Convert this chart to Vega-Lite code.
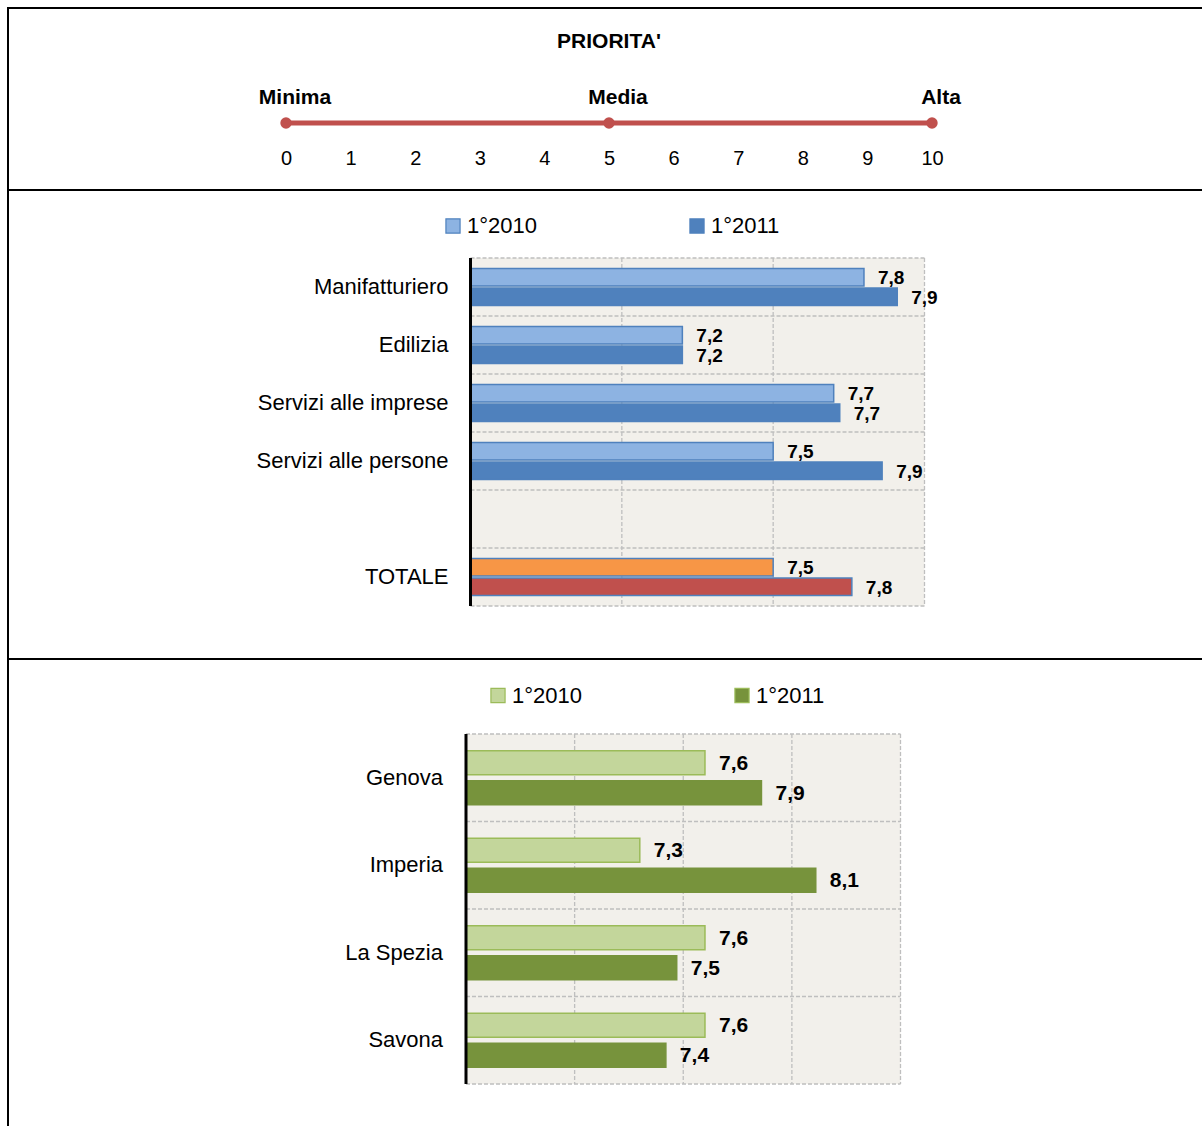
{
  "$schema": "https://vega.github.io/schema/vega-lite/v6.json",
  "padding": {"left": 7, "top": 7, "right": 0, "bottom": 0},
  "autosize": {"type": "pad"},
  "background": "white",
  "spacing": 0,
  "bounds": "flush",
  "resolve": {"scale": {"color": "independent", "x": "independent", "y": "independent", "yOffset": "independent"}, "legend": {"color": "independent"}},
  "config": {
    "font": "Liberation Sans",
    "view": {"stroke": null},
    "locale": {"number": {"decimal": ",", "thousands": ".", "grouping": [3], "currency": ["", " €"]}},
    "text": {"font": "Liberation Sans", "color": "#000000"},
    "legend": {"labelFont": "Liberation Sans", "labelColor": "#000000", "padding": 0, "offset": 0}
  },
  "datasets": {
    "scala": [
      {"livello": 0, "nome": "Minima"},
      {"livello": 5, "nome": "Media"},
      {"livello": 10, "nome": "Alta"}
    ],
    "settori": [
      {"settore": "Manifatturiero", "anno": "1°2010", "valore": 7.80},
      {"settore": "Manifatturiero", "anno": "1°2011", "valore": 7.91},
      {"settore": "Edilizia", "anno": "1°2010", "valore": 7.20},
      {"settore": "Edilizia", "anno": "1°2011", "valore": 7.20},
      {"settore": "Servizi alle imprese", "anno": "1°2010", "valore": 7.70},
      {"settore": "Servizi alle imprese", "anno": "1°2011", "valore": 7.72},
      {"settore": "Servizi alle persone", "anno": "1°2010", "valore": 7.50},
      {"settore": "Servizi alle persone", "anno": "1°2011", "valore": 7.86},
      {"settore": "TOTALE", "anno": "1°2010", "valore": 7.50},
      {"settore": "TOTALE", "anno": "1°2011", "valore": 7.76}
    ],
    "province": [
      {"provincia": "Genova", "anno": "1°2010", "valore": 7.60},
      {"provincia": "Genova", "anno": "1°2011", "valore": 7.86},
      {"provincia": "Imperia", "anno": "1°2010", "valore": 7.30},
      {"provincia": "Imperia", "anno": "1°2011", "valore": 8.11},
      {"provincia": "La Spezia", "anno": "1°2010", "valore": 7.60},
      {"provincia": "La Spezia", "anno": "1°2011", "valore": 7.47},
      {"provincia": "Savona", "anno": "1°2010", "valore": 7.60},
      {"provincia": "Savona", "anno": "1°2011", "valore": 7.42}
    ]
  },
  "vconcat": [
    {
      "width": 1195,
      "height": 182,
      "view": {"stroke": "#000000", "strokeWidth": 2, "strokeDash": [1195, 1377, 182]},
      "data": {"name": "scala"},
      "layer": [
        {
          "mark": {"type": "line", "color": "#c0504d", "strokeWidth": 5},
          "encoding": {
            "x": {"field": "livello", "type": "quantitative",
                  "scale": {"domain": [0, 10], "range": [278, 924], "nice": false, "zero": false},
                  "axis": {"orient": "bottom", "values": [0, 1, 2, 3, 4, 5, 6, 7, 8, 9, 10], "offset": -42, "format": "d",
                           "domain": false, "ticks": false, "tickSize": 0, "grid": false, "labelPadding": 0,
                           "labelFontSize": 20, "labelColor": "#000000", "title": null, "labelFlush": false,
                           "labelFont": "Liberation Sans"}},
            "y": {"datum": 115, "type": "quantitative", "scale": {"domain": [0, 182], "range": [0, 182], "nice": false, "zero": false}, "axis": null}
          }
        },
        {
          "mark": {"type": "point", "filled": true, "color": "#c0504d", "size": 130, "opacity": 1},
          "encoding": {
            "x": {"field": "livello", "type": "quantitative"},
            "y": {"datum": 115, "type": "quantitative", "axis": null}
          }
        },
        {
          "mark": {"type": "text", "fontWeight": "bold", "fontSize": 21, "dy": -25, "dx": 9, "baseline": "middle"},
          "encoding": {
            "x": {"field": "livello", "type": "quantitative"},
            "y": {"datum": 115, "type": "quantitative", "axis": null},
            "text": {"field": "nome", "type": "nominal"}
          }
        },
        {
          "data": {"values": [{"titolo": "PRIORITA'"}]},
          "mark": {"type": "text", "fontWeight": "bold", "fontSize": 21, "baseline": "middle", "letterSpacing": 1},
          "encoding": {
            "x": {"datum": 5, "type": "quantitative"},
            "y": {"datum": 34, "type": "quantitative", "axis": null},
            "text": {"field": "titolo", "type": "nominal"}
          }
        }
      ]
    },
    {
      "width": 1195,
      "height": 469,
      "view": {"stroke": "#000000", "strokeWidth": 2, "strokeDash": [1195, 1664, 469]},
      "resolve": {"scale": {"y": "independent"}},
      "layer": [
        {
          "data": {"values": [{}]},
          "mark": {"type": "rect", "color": "#f2f0eb"},
          "encoding": {
            "x": {"datum": 6.5, "type": "quantitative", "scale": {"domain": [6.5, 8.0], "range": [462.5, 916.5], "nice": false, "zero": false}, "axis": null},
            "x2": {"datum": 8.0},
            "y": {"datum": 0, "type": "quantitative", "scale": {"domain": [0, 6], "range": [68, 416], "nice": false}, "axis": null},
            "y2": {"datum": 6}
          }
        },
        {
          "data": {"values": [{"riga": 0}, {"riga": 1}, {"riga": 2}, {"riga": 3}, {"riga": 4}, {"riga": 5}, {"riga": 6}]},
          "mark": {"type": "rule", "color": "#bfbfbf", "strokeWidth": 1.3, "strokeDash": [4, 2]},
          "encoding": {
            "x": {"datum": 6.5, "type": "quantitative", "axis": null},
            "x2": {"datum": 8.0},
            "y": {"field": "riga", "type": "quantitative", "scale": {"domain": [0, 6], "range": [68, 416], "nice": false}, "axis": null}
          }
        },
        {
          "data": {"values": [{"soglia": 7.0}, {"soglia": 7.5}, {"soglia": 8.0}]},
          "mark": {"type": "rule", "color": "#bfbfbf", "strokeWidth": 1.3, "strokeDash": [4, 2]},
          "encoding": {
            "x": {"field": "soglia", "type": "quantitative", "axis": null},
            "y": {"datum": 0, "type": "quantitative", "scale": {"domain": [0, 6], "range": [68, 416], "nice": false}, "axis": null},
            "y2": {"datum": 6}
          }
        },
        {
          "data": {"name": "settori"},
          "mark": {"type": "bar", "stroke": "#4f81bd", "strokeWidth": 1.5},
          "encoding": {
            "x": {"field": "valore", "type": "quantitative", "axis": null},
            "x2": {"datum": 6.5},
            "y": {"field": "settore", "type": "nominal",
                  "scale": {"domain": ["Manifatturiero", "Edilizia", "Servizi alle imprese", "Servizi alle persone", " ", "TOTALE"], "range": [68, 416], "paddingInner": 0, "paddingOuter": 0},
                  "axis": null},
            "yOffset": {"field": "anno", "type": "nominal", "scale": {"domain": ["1°2010", "1°2011"], "paddingInner": 0.1, "paddingOuter": 0.54}},
            "color": {
              "condition": [
                {"test": "datum.settore === 'TOTALE' && datum.anno === '1°2010'", "value": "#f79646"},
                {"test": "datum.settore === 'TOTALE' && datum.anno === '1°2011'", "value": "#c0504d"}
              ],
              "field": "anno", "type": "nominal",
              "scale": {"domain": ["1°2010", "1°2011"], "range": ["#8db3e2", "#4f81bd"]},
              "legend": {"orient": "none", "legendX": 434, "legendY": 25, "direction": "horizontal", "title": null,
                         "symbolType": "square", "symbolSize": 200, "symbolStrokeColor": "#4f81bd", "symbolStrokeWidth": 1.2,
                         "labelFontSize": 22, "labelOffset": 3, "columnPadding": 149, "padding": 0}
            }
          }
        },
        {
          "data": {"name": "settori"},
          "mark": {"type": "text", "align": "left", "baseline": "middle", "dx": 14, "dy": 1, "fontSize": 19, "fontWeight": "bold"},
          "encoding": {
            "x": {"field": "valore", "type": "quantitative", "axis": null},
            "y": {"field": "settore", "type": "nominal",
                  "scale": {"domain": ["Manifatturiero", "Edilizia", "Servizi alle imprese", "Servizi alle persone", " ", "TOTALE"], "range": [68, 416], "paddingInner": 0, "paddingOuter": 0},
                  "axis": null},
            "yOffset": {"field": "anno", "type": "nominal", "scale": {"domain": ["1°2010", "1°2011"], "paddingInner": 0.1, "paddingOuter": 0.54}},
            "text": {"field": "valore", "type": "quantitative", "format": ".1f"}
          }
        },
        {
          "data": {"name": "settori"},
          "transform": [{"filter": "datum.anno === '1°2010'"}],
          "mark": {"type": "text", "align": "right", "baseline": "middle", "dx": -22, "fontSize": 22},
          "encoding": {
            "x": {"datum": 6.5, "type": "quantitative", "axis": null},
            "y": {"field": "settore", "type": "nominal",
                  "scale": {"domain": ["Manifatturiero", "Edilizia", "Servizi alle imprese", "Servizi alle persone", " ", "TOTALE"], "range": [68, 416], "paddingInner": 0, "paddingOuter": 0},
                  "axis": null},
            "text": {"field": "settore", "type": "nominal"}
          }
        },
        {
          "data": {"values": [{}]},
          "mark": {"type": "rule", "color": "#000000", "strokeWidth": 3},
          "encoding": {
            "x": {"datum": 6.5, "type": "quantitative", "axis": null},
            "y": {"datum": 0, "type": "quantitative", "scale": {"domain": [0, 6], "range": [68, 416], "nice": false}, "axis": null},
            "y2": {"datum": 6}
          }
        }
      ]
    },
    {
      "width": 1195,
      "height": 468,
      "view": {"stroke": "#000000", "strokeWidth": 2, "strokeDash": [1195, 1663, 468]},
      "resolve": {"scale": {"y": "independent"}},
      "layer": [
        {
          "data": {"values": [{}]},
          "mark": {"type": "rect", "color": "#f2f0eb"},
          "encoding": {
            "x": {"datum": 6.5, "type": "quantitative", "scale": {"domain": [6.5, 8.5], "range": [458, 892.5], "nice": false, "zero": false}, "axis": null},
            "x2": {"datum": 8.5},
            "y": {"datum": 0, "type": "quantitative", "scale": {"domain": [0, 4], "range": [75, 425], "nice": false}, "axis": null},
            "y2": {"datum": 4}
          }
        },
        {
          "data": {"values": [{"riga": 0}, {"riga": 1}, {"riga": 2}, {"riga": 3}, {"riga": 4}]},
          "mark": {"type": "rule", "color": "#bfbfbf", "strokeWidth": 1.3, "strokeDash": [4, 2]},
          "encoding": {
            "x": {"datum": 6.5, "type": "quantitative", "axis": null},
            "x2": {"datum": 8.5},
            "y": {"field": "riga", "type": "quantitative", "scale": {"domain": [0, 4], "range": [75, 425], "nice": false}, "axis": null}
          }
        },
        {
          "data": {"values": [{"soglia": 7.0}, {"soglia": 7.5}, {"soglia": 8.0}, {"soglia": 8.5}]},
          "mark": {"type": "rule", "color": "#bfbfbf", "strokeWidth": 1.3, "strokeDash": [4, 2]},
          "encoding": {
            "x": {"field": "soglia", "type": "quantitative", "axis": null},
            "y": {"datum": 0, "type": "quantitative", "scale": {"domain": [0, 4], "range": [75, 425], "nice": false}, "axis": null},
            "y2": {"datum": 4}
          }
        },
        {
          "data": {"name": "province"},
          "mark": {"type": "bar", "strokeWidth": 1.5},
          "encoding": {
            "x": {"field": "valore", "type": "quantitative", "axis": null},
            "x2": {"datum": 6.5},
            "y": {"field": "provincia", "type": "nominal",
                  "scale": {"domain": ["Genova", "Imperia", "La Spezia", "Savona"], "range": [75, 425], "paddingInner": 0, "paddingOuter": 0},
                  "axis": null},
            "yOffset": {"field": "anno", "type": "nominal", "scale": {"domain": ["1°2010", "1°2011"], "paddingInner": 0.2, "paddingOuter": 0.558}},
            "stroke": {"condition": {"test": "datum.anno === '1°2010'", "value": "#9bbb59"}, "value": "#77933c"},
            "color": {
              "field": "anno", "type": "nominal",
              "scale": {"domain": ["1°2010", "1°2011"], "range": ["#c3d69b", "#77933c"]},
              "legend": {"orient": "none", "legendX": 479, "legendY": 25.5, "direction": "horizontal", "title": null,
                         "symbolType": "square", "symbolSize": 200, "symbolStrokeColor": "#9bbb59", "symbolStrokeWidth": 1.2,
                         "labelFontSize": 22, "labelOffset": 3, "columnPadding": 149, "padding": 0}
            }
          }
        },
        {
          "data": {"name": "province"},
          "mark": {"type": "text", "align": "left", "baseline": "middle", "dx": 14, "dy": 1, "fontSize": 21, "fontWeight": "bold"},
          "encoding": {
            "x": {"field": "valore", "type": "quantitative", "axis": null},
            "y": {"field": "provincia", "type": "nominal",
                  "scale": {"domain": ["Genova", "Imperia", "La Spezia", "Savona"], "range": [75, 425], "paddingInner": 0, "paddingOuter": 0},
                  "axis": null},
            "yOffset": {"field": "anno", "type": "nominal", "scale": {"domain": ["1°2010", "1°2011"], "paddingInner": 0.2, "paddingOuter": 0.558}},
            "text": {"field": "valore", "type": "quantitative", "format": ".1f"}
          }
        },
        {
          "data": {"name": "province"},
          "transform": [{"filter": "datum.anno === '1°2010'"}],
          "mark": {"type": "text", "align": "right", "baseline": "middle", "dx": -23, "fontSize": 22},
          "encoding": {
            "x": {"datum": 6.5, "type": "quantitative", "axis": null},
            "y": {"field": "provincia", "type": "nominal",
                  "scale": {"domain": ["Genova", "Imperia", "La Spezia", "Savona"], "range": [75, 425], "paddingInner": 0, "paddingOuter": 0},
                  "axis": null},
            "text": {"field": "provincia", "type": "nominal"}
          }
        },
        {
          "data": {"values": [{}]},
          "mark": {"type": "rule", "color": "#000000", "strokeWidth": 3},
          "encoding": {
            "x": {"datum": 6.5, "type": "quantitative", "axis": null},
            "y": {"datum": 0, "type": "quantitative", "scale": {"domain": [0, 4], "range": [75, 425], "nice": false}, "axis": null},
            "y2": {"datum": 4}
          }
        }
      ]
    }
  ]
}
